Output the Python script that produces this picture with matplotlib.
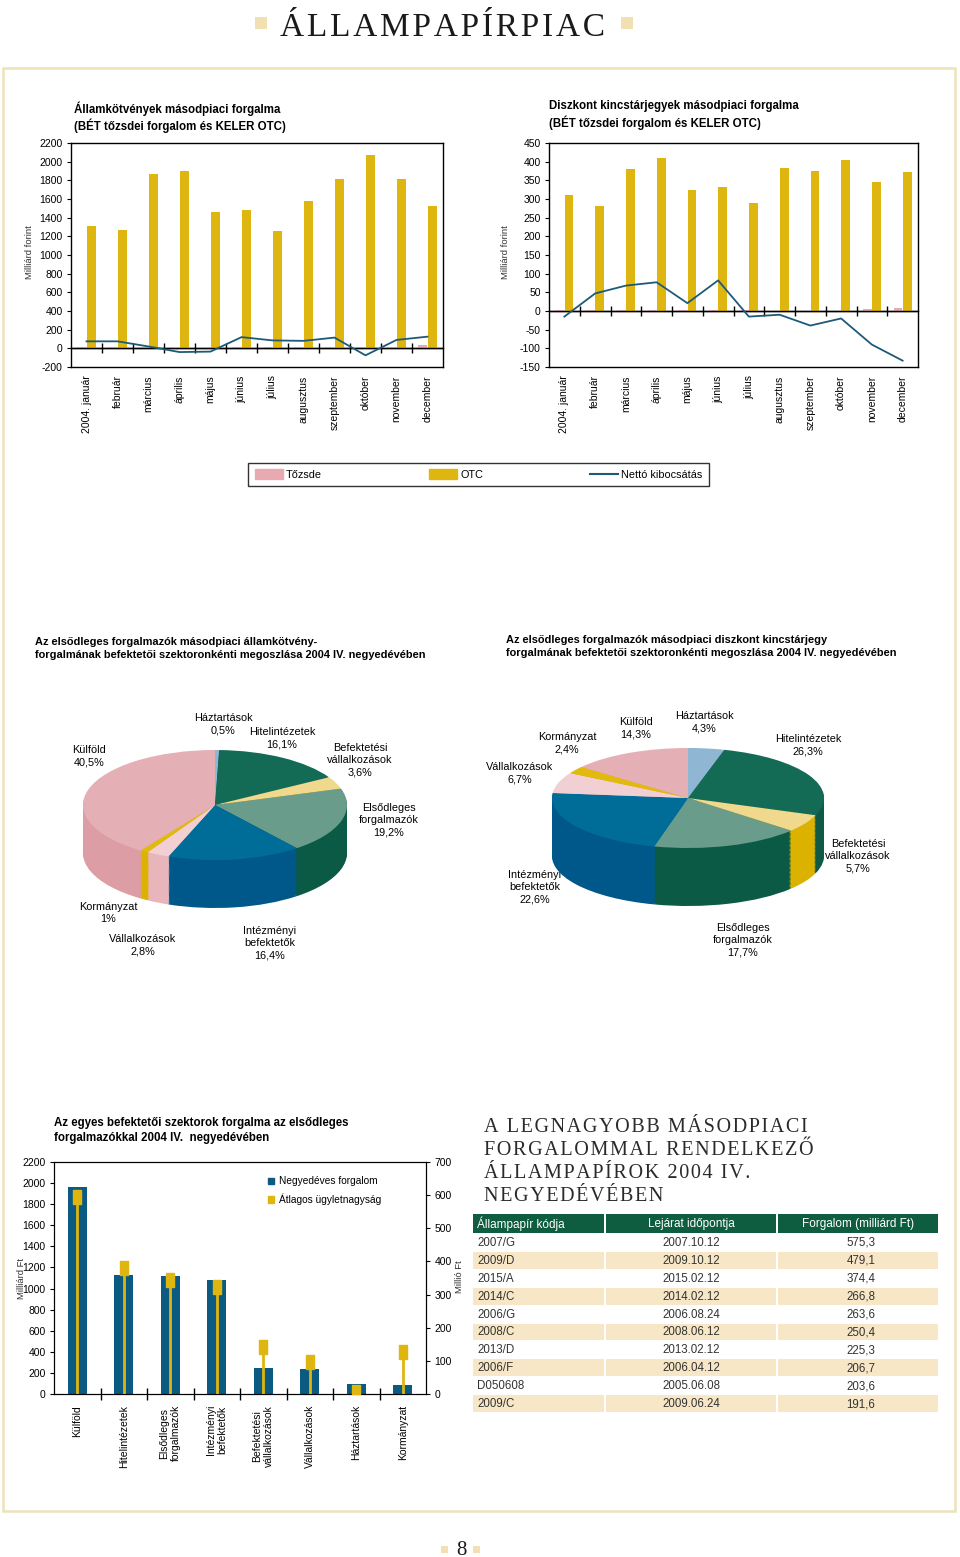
import numpy as np
import matplotlib
matplotlib.use("Agg")
import matplotlib.pyplot as plt
from matplotlib.patches import Rectangle, Patch
from matplotlib.lines import Line2D

plt.rcParams['font.family'] = ['Liberation Sans', 'DejaVu Sans']
plt.rcParams['axes.unicode_minus'] = False
SERIF = ['Liberation Serif', 'DejaVu Serif']

W, H = 960, 1557

# --- data ---
months = ['2004. január', 'február', 'március', 'április', 'május', 'június',
          'július', 'augusztus', 'szeptember', 'október', 'november', 'december']

bond_otc = [1310, 1270, 1865, 1905, 1460, 1480, 1255, 1580, 1810, 2070, 1810, 1520]
bond_tozsde = [10, 10, 10, 8, 8, 10, 10, 10, 10, 10, 12, 35]
bond_netto = [75, 75, 20, -40, -35, 120, 85, 80, 115, -75, 90, 125]

tbill_otc = [312, 282, 380, 410, 324, 333, 289, 382, 376, 405, 346, 371]
tbill_tozsde = [2, 2, 2, 4, 3, 2, 2, 1, 1, 1, 5, 9]
tbill_netto = [-15, 47, 68, 77, 21, 82, -15, -10, -39, -20, -90, -133]

sectors = ['Háztartások', 'Hitelintézetek', 'Befektetési\nvállalkozások',
           'Elsődleges\nforgalmazók', 'Intézményi\nbefektetők', 'Vállalkozások',
           'Kormányzat', 'Külföld']
bond_share = [0.5, 16.1, 3.6, 19.2, 16.4, 2.8, 1.0, 40.5]
tbill_share = [4.3, 26.3, 5.7, 17.7, 22.6, 6.7, 2.4, 14.3]

bar_sectors = ['Külföld', 'Hitelintézetek', 'Elsődleges\nforgalmazók', 'Intézményi\nbefektetők',
               'Befektetési\nvállalkozások', 'Vállalkozások', 'Háztartások', 'Kormányzat']
quarter_volume = [1960, 1130, 1115, 1080, 250, 235, 95, 85]
avg_deal = [595, 381, 343, 323, 142, 97, 6, 127]

codes = ['2007/G', '2009/D', '2015/A', '2014/C', '2006/G', '2008/C', '2013/D', '2006/F', 'D050608', '2009/C']
maturity = ['2007.10.12', '2009.10.12', '2015.02.12', '2014.02.12', '2006.08.24',
            '2008.06.12', '2013.02.12', '2006.04.12', '2005.06.08', '2009.06.24']
turnover = [575.3, 479.1, 374.4, 266.8, 263.6, 250.4, 225.3, 206.7, 203.6, 191.6]

# --- colours ---
PINK = '#e8a9b1'
GOLD = '#dfb50f'
LINE = '#1d5a78'
BLUE = '#0b5a82'
CREAM = '#ede3b8'
SQ = '#f2dfb2'
TAN = '#f7e7c6'
GREEN = '#0e5d40'

top_cols = ['#8fb6d3', '#136b55', '#f0d98c', '#6a9c8c', '#006d98', '#f1cfd2', '#e1b90f', '#e4b0b6']
side_cols = ['#7ba2c2', '#0e5a47', '#dcb200', '#0b5a45', '#00588a', '#e8b6ba', '#dcb200', '#dd9da4']


def add_ax(l, t, r, b):
    return fig.add_axes([l / W, 1 - b / H, (r - l) / W, (b - t) / H])


def spaced(s):
    # poor man's letter spacing for the serif headings
    return '\u200a'.join(s)


fig = plt.figure(figsize=(W / 100, H / 100), dpi=100)
page = fig.add_axes([0, 0, 1, 1])
page.set_xlim(0, W)
page.set_ylim(H, 0)
page.axis('off')

# page furniture
page.add_patch(Rectangle((3, 68), 952, 1443, fill=False, ec=CREAM, lw=1.8))
page.text(442, 36, spaced('ÁLLAMPAPÍRPIAC'), ha='center', va='baseline', family=SERIF,
          fontsize=24, color='#1a1a1a')
page.add_patch(Rectangle((255, 17), 12, 12, color=SQ, lw=0))
page.add_patch(Rectangle((621, 17), 12, 12, color=SQ, lw=0))
page.text(461, 1555, '8', ha='center', va='baseline', family=SERIF, fontsize=15, color='#1a1a1a')
page.add_patch(Rectangle((441, 1546), 7, 7, color=SQ, lw=0))
page.add_patch(Rectangle((473, 1546), 7, 7, color=SQ, lw=0))

TICK = 7.5


def month_chart(ax, otc, tozsde, netto, ylim, step):
    x = np.arange(len(months))
    ax.bar(x - 0.15, tozsde, 0.29, color=PINK, zorder=2)
    ax.bar(x + 0.15, otc, 0.29, color=GOLD, zorder=2)
    ax.plot(x, netto, color=LINE, lw=1.3, zorder=3)
    ax.axhline(0, color='black', lw=1, zorder=2.5)
    ax.set_xlim(-0.5, 11.5)
    ax.set_ylim(*ylim)
    ax.set_yticks(np.arange(ylim[0], ylim[1] + 1, step))
    ax.set_xticks(x)
    ax.set_xticklabels(months, rotation=90, fontsize=TICK)
    ax.tick_params(axis='x', length=0, pad=6)
    ax.tick_params(axis='y', direction='out', length=3, width=0.8, pad=3, labelsize=TICK)
    for s in ax.spines.values():
        s.set_linewidth(1)
    zero = (0 - ylim[0]) / (ylim[1] - ylim[0])
    sec = ax.secondary_xaxis(zero)
    sec.set_xticks(x[:-1] + 0.5)
    sec.tick_params(direction='inout', length=7, width=1, labelbottom=False)
    sec.spines['bottom'].set_linewidth(1)


ax1 = add_ax(71, 143, 443, 367)
month_chart(ax1, bond_otc, bond_tozsde, bond_netto, (-200, 2200), 200)
page.text(74, 101, 'Államkötvények másodpiaci forgalma\n(BÉT tőzsdei forgalom és KELER OTC)',
          va='top', fontsize=8.3, fontweight='bold', linespacing=1.3)
page.text(30, 252, 'Milliárd forint', rotation=90, ha='center', va='center', fontsize=6.8, color='#333')

ax2 = add_ax(549, 143, 918, 367)
month_chart(ax2, tbill_otc, tbill_tozsde, tbill_netto, (-150, 450), 50)
page.text(549, 100, 'Diszkont kincstárjegyek másodpiaci forgalma\n(BÉT tőzsdei forgalom és KELER OTC)',
          va='top', fontsize=8.3, fontweight='bold', linespacing=1.3)
page.text(506, 252, 'Milliárd forint', rotation=90, ha='center', va='center', fontsize=6.8, color='#333')

handles = [Patch(color=PINK, label='Tőzsde'), Patch(color=GOLD, label='OTC'),
           Line2D([], [], color=LINE, lw=1.5, label='Nettó kibocsátás')]
leg = fig.legend(handles=handles, ncol=3, loc='center', mode='expand',
                 bbox_to_anchor=(248 / W, 1 - 488 / H, 461 / W, 27 / H), borderaxespad=0,
                 fontsize=7.8, frameon=True, fancybox=False, edgecolor='black',
                 handlelength=2.6, handleheight=1.0, handletextpad=0.3, borderpad=0.6)
leg.get_frame().set_linewidth(1)


# --- pies ---
def pie3d(ax, values, depth):
    n = 45
    for k in range(n, 0, -1):
        ax.pie(values, colors=side_cols, startangle=90, counterclock=False,
               center=(0, -depth * k / n), wedgeprops=dict(linewidth=0))
    ax.pie(values, colors=top_cols, startangle=90, counterclock=False,
           wedgeprops=dict(linewidth=0))
    ax.set_aspect('auto')
    ax.set_xlim(-1, 1)
    ax.set_ylim(-1 - depth, 1)
    ax.axis('off')


def pct(name, p):
    return name + '\n' + f'{p:g}'.replace('.', ',') + '%'


PIE_FS = 7.8

pa = add_ax(83, 750, 347, 908)
pie3d(pa, bond_share, 48 / 55)
page.text(35, 637, 'Az elsődleges forgalmazók másodpiaci államkötvény-\n'
          'forgalmának befektetői szektoronkénti megoszlása 2004 IV. negyedévében',
          va='top', fontsize=7.9, fontweight='bold', linespacing=1.35)
left_pos = [(223, 724), (282, 738), (360, 760), (389, 820), (270, 943), (143, 945), (108, 913), (89, 756)]
for name, p, (lx, ly) in zip(sectors, bond_share, left_pos):
    page.text(lx, ly, pct(name, p), ha='center', va='center', fontsize=PIE_FS, linespacing=1.25)

pb = add_ax(552, 748, 824, 906)
pie3d(pb, tbill_share, 58 / 50)
page.text(506, 635, 'Az elsődleges forgalmazók másodpiaci diszkont kincstárjegy\n'
          'forgalmának befektetői szektoronkénti megoszlása 2004 IV. negyedévében',
          va='top', fontsize=7.9, fontweight='bold', linespacing=1.35)
right_pos = [(704, 722), (808, 745), (858, 856), (743, 940), (535, 887), (520, 773), (567, 743), (636, 728)]
for name, p, (lx, ly) in zip(sectors, tbill_share, right_pos):
    page.text(lx, ly, pct(name, p), ha='center', va='center', fontsize=PIE_FS, linespacing=1.25)

# --- bottom bar chart ---
ax3 = add_ax(54, 1162, 426, 1394)
xb = np.arange(len(bar_sectors))
ax3.bar(xb, quarter_volume, 0.4, color=BLUE, zorder=2)
ax3.set_xlim(-0.5, len(bar_sectors) - 0.5)
ax3.set_ylim(0, 2200)
ax3.set_yticks(np.arange(0, 2201, 200))
ax3.set_xticks(xb)
ax3.set_xticklabels(bar_sectors, rotation=90, fontsize=TICK, va='top', ha='center')
ax3.set_xticks(xb[:-1] + 0.5, minor=True)
ax3.tick_params(axis='x', which='major', length=0, pad=8)
ax3.tick_params(axis='x', which='minor', direction='inout', length=8, width=1)
ax3.tick_params(axis='y', direction='out', length=3, width=0.8, pad=3, labelsize=TICK)
ax3b = ax3.twinx()
ax3b.set_ylim(0, 700)
ax3b.set_yticks(np.arange(0, 701, 100))
ax3b.tick_params(axis='y', direction='out', length=3, width=0.8, pad=3, labelsize=TICK)
cap = [(-0.3, -0.5), (0.3, -0.5), (0.3, 0.5), (-0.3, 0.5), (-0.3, -0.5)]
ax3b.vlines(xb, 0, avg_deal, color=GOLD, lw=2, zorder=3)
ax3b.plot(xb, avg_deal, ls='none', marker=cap, ms=10, color=GOLD, mec=GOLD, zorder=4)
ax3.legend(handles=[Patch(color=BLUE, label='Negyedéves forgalom'),
                    Patch(color=GOLD, label='Átlagos ügyletnagyság')],
           loc='upper left', bbox_to_anchor=(0.565, 0.955), frameon=False, fontsize=7.3,
           handlelength=0.6, handleheight=0.6, handletextpad=0.5, labelspacing=0.7,
           borderaxespad=0)
page.text(54, 1117, 'Az egyes befektetői szektorok forgalma az elsődleges\n'
          'forgalmazókkal 2004 IV.  negyedévében',
          va='top', fontsize=8.3, fontweight='bold', linespacing=1.3)
page.text(21, 1278, 'Milliárd Ft', rotation=90, ha='center', va='center', fontsize=6.8, color='#333')
page.text(460, 1277, 'Millió Ft', rotation=90, ha='center', va='center', fontsize=6.8, color='#333')

# --- table ---
title_lines = ['A LEGNAGYOBB MÁSODPIACI', 'FORGALOMMAL RENDELKEZŐ',
               'ÁLLAMPAPÍROK 2004 IV.', 'NEGYEDÉVÉBEN']
for i, t in enumerate(title_lines):
    page.text(484, 1132 + i * 23, spaced(t), va='baseline', family=SERIF, fontsize=14.5,
              color='#2a2a2a')

cols = [(473, 604), (606, 776), (778, 938)]
head = ['Állampapír kódja', 'Lejárat időpontja', 'Forgalom (milliárd Ft)']
for (c0, c1) in cols:
    page.add_patch(Rectangle((c0, 1214), c1 - c0, 19, color=GREEN, lw=0))
TFS = 8.5
page.text(477, 1224, head[0], va='center', fontsize=TFS, color='white')
page.text(691, 1224, head[1], ha='center', va='center', fontsize=TFS, color='white')
page.text(858, 1224, head[2], ha='center', va='center', fontsize=TFS, color='white')
rh = 17.9
for i, (c, d, v) in enumerate(zip(codes, maturity, turnover)):
    y0 = 1234 + i * rh
    if i % 2 == 1:
        for (c0, c1) in cols:
            page.add_patch(Rectangle((c0, y0), c1 - c0, rh - 1, color=TAN, lw=0))
    yc = y0 + rh / 2
    page.text(477, yc, c, va='center', fontsize=8.3, color='#333')
    page.text(691, yc, d, ha='center', va='center', fontsize=8.3, color='#333')
    page.text(861, yc, f'{v:.1f}'.replace('.', ','), ha='center', va='center', fontsize=8.3, color='#333')

fig.savefig('out.png', dpi=100)
